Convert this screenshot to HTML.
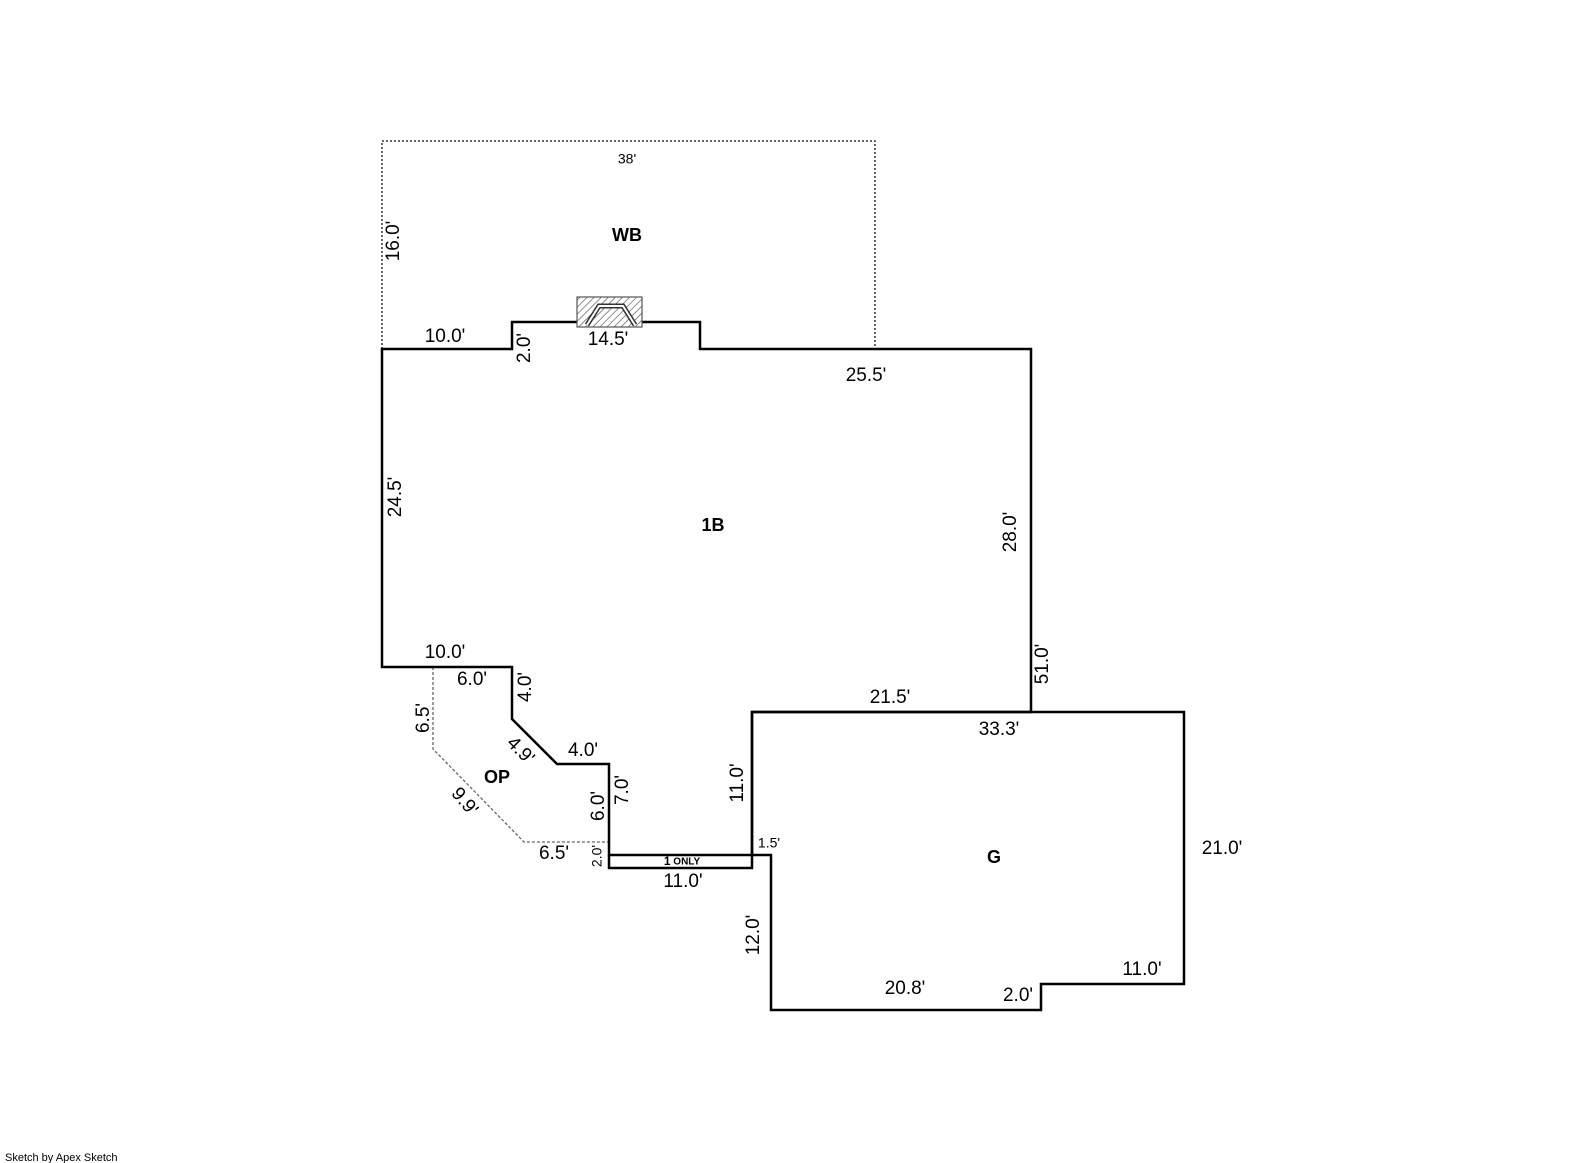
<!DOCTYPE html>
<html><head><meta charset="utf-8"><style>
html,body{margin:0;padding:0;background:#fff;}
svg{display:block;}
text{font-family:"Liberation Sans",Arial,sans-serif;fill:#000;}
</style></head><body>
<svg width="1585" height="1163" viewBox="0 0 1585 1163" xmlns="http://www.w3.org/2000/svg">
<defs>
<pattern id="hatch" width="5" height="5" patternUnits="userSpaceOnUse" patternTransform="rotate(45)">
<rect width="5" height="5" fill="#fff"/><line x1="0" y1="0" x2="0" y2="5" stroke="#444" stroke-width="1.2"/>
</pattern>
</defs>
<polyline points="382,349 382,141 875,141 875,349" fill="none" stroke="#333" stroke-width="1.5" stroke-dasharray="2,2"/>
<polyline points="433,667 433,749 524,842 609,842" fill="none" stroke="#666" stroke-width="1.3" stroke-dasharray="3,2"/>
<polygon points="382,667 382,349 512,349 512,322 700,322 700,349 1031,349 1031,712 752,712 752,855 609,855 609,764 557,764 512,719 512,667" fill="none" stroke="#000" stroke-width="2.5"/>
<polyline points="609,855 609,868 752,868 752,855" fill="none" stroke="#000" stroke-width="2.5"/>
<polygon points="752,712 1184,712 1184,984 1041,984 1041,1010 771,1010 771,855 752,855" fill="none" stroke="#000" stroke-width="2.5"/>
<rect x="577" y="297" width="65" height="30" fill="url(#hatch)" stroke="#555" stroke-width="1.2"/>
<polyline points="587,325 599,306 623,306 635,325" fill="none" stroke="#333" stroke-width="5"/>
<polyline points="587,325 599,306 623,306 635,325" fill="none" stroke="#fff" stroke-width="2"/>

<g font-size="19" text-anchor="middle" dominant-baseline="middle">
<text x="627" y="160" font-size="14">38'</text>
<text x="627" y="236" font-weight="bold" font-size="18">WB</text>
<text transform="translate(394,241) rotate(-90)">16.0'</text>
<text x="445" y="337">10.0'</text>
<text transform="translate(525,348) rotate(-90)">2.0'</text>
<text x="608" y="340">14.5'</text>
<text x="866" y="376">25.5'</text>
<text transform="translate(396,497) rotate(-90)">24.5'</text>
<text x="713" y="526" font-weight="bold" font-size="18">1B</text>
<text transform="translate(1011,532) rotate(-90)">28.0'</text>
<text transform="translate(1043,664) rotate(-90)">51.0'</text>
<text x="445" y="653">10.0'</text>
<text x="472" y="680">6.0'</text>
<text transform="translate(526,687) rotate(-90)">4.0'</text>
<text transform="translate(424,718) rotate(-90)">6.5'</text>
<text transform="translate(520,751) rotate(45)">4.9'</text>
<text x="583" y="751">4.0'</text>
<text x="497" y="778" font-weight="bold" font-size="18">OP</text>
<text transform="translate(623,790) rotate(-90)">7.0'</text>
<text transform="translate(599,806) rotate(-90)">6.0'</text>
<text transform="translate(464,802) rotate(50)">9.9'</text>
<text x="554" y="854">6.5'</text>
<text transform="translate(598,856) rotate(-90)" font-size="14">2.0'</text>
<text x="682" y="862" font-size="10" font-weight="bold"><tspan font-size="12">1</tspan> ONLY</text>
<text x="683" y="882">11.0'</text>
<text transform="translate(738,783) rotate(-90)">11.0'</text>
<text x="769" y="844" font-size="14">1.5'</text>
<text x="890" y="698">21.5'</text>
<text x="999" y="730">33.3'</text>
<text x="994" y="858" font-weight="bold" font-size="18">G</text>
<text x="1222" y="849">21.0'</text>
<text transform="translate(754,935) rotate(-90)">12.0'</text>
<text x="905" y="989">20.8'</text>
<text x="1018" y="996">2.0'</text>
<text x="1142" y="970">11.0'</text>
</g>
<text x="5" y="1161" font-size="11">Sketch by Apex Sketch</text>
</svg>
</body></html>
